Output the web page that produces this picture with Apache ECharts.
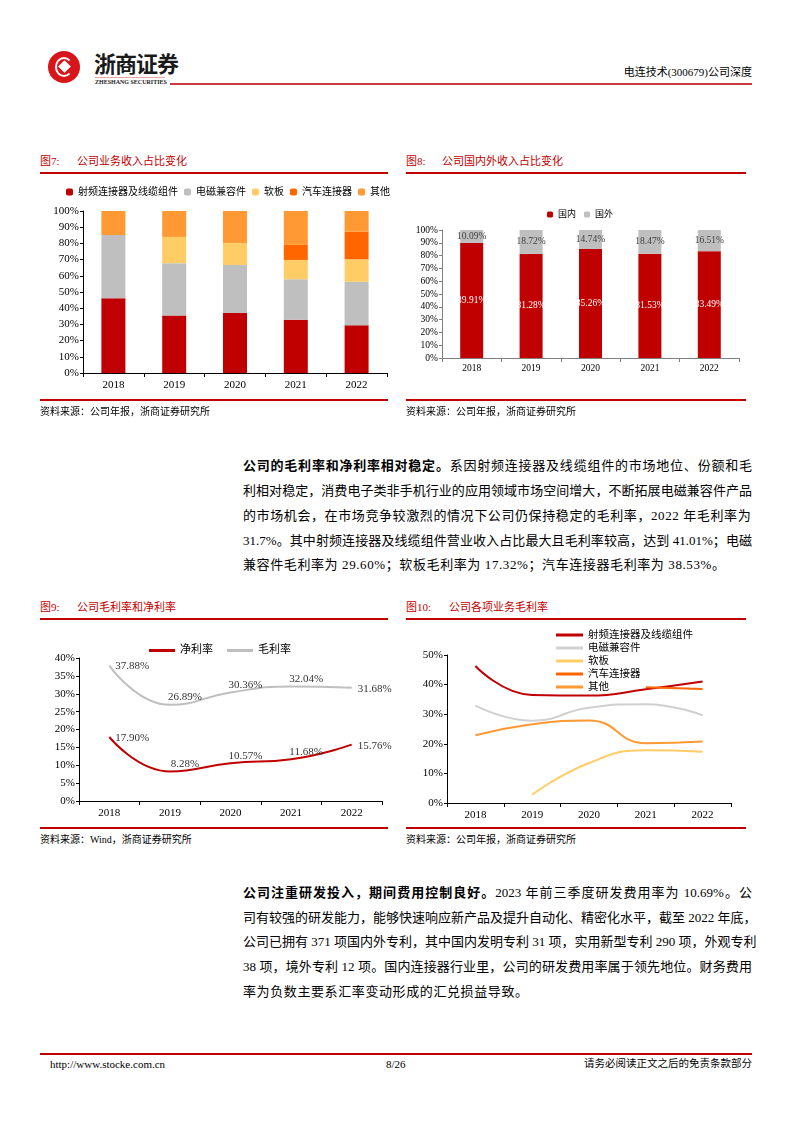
<!DOCTYPE html>
<html>
<head>
<meta charset="utf-8">
<script src="https://cdn.jsdelivr.net/npm/echarts@6/dist/echarts.min.js"></script>
<style>
  body { margin:0; background:#fff; }
  #page { position:relative; width:794px; height:1123px; overflow:hidden;
          font-family:"Liberation Serif","Noto Sans CJK SC",serif; color:#000; }
  .abs { position:absolute; }
  .red-line { position:absolute; background:#c00000; height:2px; }
  .fig-title { position:absolute; font-size:11px; color:#c00000; line-height:14px; white-space:nowrap; }
  .src { position:absolute; font-size:10px; line-height:13px; white-space:nowrap; }
  .chart { position:absolute; width:360px; height:225px; }
  .ln { position:absolute; left:243px; width:509px; font-size:13px; line-height:20px; height:20px; white-space:nowrap; }
  .jf { text-align:justify; text-align-last:justify; }
  b { font-weight:bold; }
</style>
</head>
<body>
<div id="page">
  <!-- header -->
  <div class="abs" style="left:48px;top:51px;width:32px;height:32px;border-radius:50%;background:#d7151a;"></div>
  <div class="abs" style="left:55px;top:57px;width:14px;height:16px;border:2px solid #fff;border-radius:50%;border-right-color:transparent;"></div>
  <div class="abs" style="left:60px;top:62px;width:9px;height:9px;background:#fff;transform:rotate(45deg);"></div>
  <div class="abs" style="left:94px;top:48px;font-size:22px;font-weight:bold;color:#1a1a1a;font-family:'Noto Sans CJK SC';letter-spacing:-1px;line-height:28px;">浙商证券</div>
  <div class="abs" style="left:95px;top:77px;width:70px;height:1px;background:#f0a0a0;"></div>
  <div class="abs" style="left:95px;top:79px;font-size:6px;line-height:7px;font-weight:bold;color:#222;white-space:nowrap;">ZHESHANG SECURITIES</div>
  <div class="abs" style="left:170px;top:83px;width:582px;height:2px;background:#cc3a3f;"></div>
  <div class="abs" style="right:42px;top:65px;font-size:11px;line-height:14px;white-space:nowrap;">电连技术(300679)公司深度</div>

  <!-- figure 7 / 8 -->
  <div class="fig-title" style="left:40px;top:154px;"><span style="display:inline-block;width:37px;">图7:</span>公司业务收入占比变化</div>
  <div class="red-line" style="left:40px;top:172px;width:348px;"></div>
  <div class="fig-title" style="left:406px;top:154px;"><span style="display:inline-block;width:36px;">图8:</span>公司国内外收入占比变化</div>
  <div class="red-line" style="left:406px;top:172px;width:340px;"></div>
  <div id="c7" class="chart" style="left:40px;top:175px;"></div>
  <div id="c8" class="chart" style="left:400px;top:175px;"></div>
  <div class="red-line" style="left:40px;top:399px;width:348px;"></div>
  <div class="red-line" style="left:406px;top:399px;width:340px;"></div>
  <div class="src" style="left:40px;top:405px;">资料来源：公司年报，浙商证券研究所</div>
  <div class="src" style="left:406px;top:405px;">资料来源：公司年报，浙商证券研究所</div>

  <!-- paragraph 1 -->
  <div class="ln jf" style="top:456px;"><b>公司的毛利率和净利率相对稳定。</b>系因射频连接器及线缆组件的市场地位、份额和毛</div>
  <div class="ln jf" style="top:481px;">利相对稳定，消费电子类非手机行业的应用领域市场空间增大，不断拓展电磁兼容件产品</div>
  <div class="ln" style="top:506px;letter-spacing:0.6px;">的市场机会，在市场竞争较激烈的情况下公司仍保持稳定的毛利率，2022 年毛利率为</div>
  <div class="ln jf" style="top:531px;">31.7%。其中射频连接器及线缆组件营业收入占比最大且毛利率较高，达到 41.01%；电磁</div>
  <div class="ln" style="top:555px;letter-spacing:0.6px;">兼容件毛利率为 29.60%；软板毛利率为 17.32%；汽车连接器毛利率为 38.53%。</div>

  <!-- figure 9 / 10 -->
  <div class="fig-title" style="left:40px;top:600px;"><span style="display:inline-block;width:37px;">图9:</span>公司毛利率和净利率</div>
  <div class="red-line" style="left:40px;top:618px;width:348px;"></div>
  <div class="fig-title" style="left:406px;top:600px;"><span style="display:inline-block;width:43px;">图10:</span>公司各项业务毛利率</div>
  <div class="red-line" style="left:406px;top:618px;width:340px;"></div>
  <div id="c9" class="chart" style="left:40px;top:600px;"></div>
  <div id="c10" class="chart" style="left:400px;top:600px;"></div>
  <div class="red-line" style="left:40px;top:827px;width:348px;"></div>
  <div class="red-line" style="left:406px;top:827px;width:340px;"></div>
  <div class="src" style="left:40px;top:833px;">资料来源：Wind，浙商证券研究所</div>
  <div class="src" style="left:406px;top:833px;">资料来源：公司年报，浙商证券研究所</div>

  <!-- paragraph 2 -->
  <div class="ln jf" style="top:883px;"><b>公司注重研发投入，期间费用控制良好。</b>2023 年前三季度研发费用率为 10.69%。公</div>
  <div class="ln jf" style="top:908px;">司有较强的研发能力，能够快速响应新产品及提升自动化、精密化水平，截至 2022 年底，</div>
  <div class="ln jf" style="top:932px;">公司已拥有 371 项国内外专利，其中国内发明专利 31 项，实用新型专利 290 项，外观专利</div>
  <div class="ln jf" style="top:957px;">38 项，境外专利 12 项。国内连接器行业里，公司的研发费用率属于领先地位。财务费用</div>
  <div class="ln" style="top:982px;letter-spacing:0.6px;">率为负数主要系汇率变动形成的汇兑损益导致。</div>

  <!-- footer -->
  <div class="abs" style="left:40px;top:1053px;width:712px;height:2px;background:#c00000;"></div>
  <div class="abs" style="left:50px;top:1057px;font-size:11px;line-height:14px;">http://www.stocke.com.cn</div>
  <div class="abs" style="left:386px;top:1057px;font-size:11px;line-height:14px;">8/26</div>
  <div class="abs" style="right:42px;top:1057px;font-size:10.5px;line-height:14px;white-space:nowrap;">请务必阅读正文之后的免责条款部分</div>
</div>

<script>
var FONT = '"Liberation Serif", "Noto Sans CJK SC", serif';
var years = ['2018', '2019', '2020', '2021', '2022'];

// 图7 业务收入占比 (%)
var bizNames = ['射频连接器及线缆组件', '电磁兼容件', '软板', '汽车连接器', '其他'];
var shareRf = [46.2, 35.5, 37.0, 32.9, 29.4];
var shareEmc = [39.0, 32.3, 29.7, 25.0, 26.9];
var shareFpc = [0, 16.2, 13.6, 11.9, 13.9];
var shareAuto = [0, 0, 0, 9.3, 17.1];
var shareOther = [14.8, 16.0, 19.7, 20.9, 12.7];

// 图8 国内外收入占比 (%)
var domestic = [89.91, 81.28, 85.26, 81.53, 83.49];
var overseas = [10.09, 18.72, 14.74, 18.47, 16.51];

// 图9 毛利率 / 净利率 (%)
var netMargin = [17.90, 8.28, 10.57, 11.68, 15.76];
var grossMargin = [37.88, 26.89, 30.36, 32.04, 31.68];

// 图10 各项业务毛利率 (%)
var gmRf = [46.3, 36.5, 36.3, 38.4, 41.01];
var gmEmc = [32.9, 27.8, 32.2, 33.4, 29.60];
var gmFpc = [null, 2.8, 13.5, 17.8, 17.32];
var gmAuto = [null, null, null, 39.1, 38.53];
var gmOther = [22.9, 26.6, 27.9, 20.2, 20.8];

var bizColors = ['#c00000', '#bfbfbf', '#ffcc66', '#ff6600', '#ff9933'];

function pctAxis(max, interval, size, color) {
  return {
    type: 'value', min: 0, max: max, interval: interval,
    axisLine: { show: true, lineStyle: { color: color } },
    axisTick: { show: true, length: 3, lineStyle: { color: color } },
    splitLine: { show: false },
    axisLabel: { formatter: '{value}%', color: '#000', fontSize: size, margin: 4, fontFamily: FONT }
  };
}
function catAxis(size, color, margin) {
  return {
    type: 'category', data: years,
    axisLine: { lineStyle: { color: color } },
    axisTick: { show: true, length: 4, lineStyle: { color: color } },
    axisLabel: { color: '#000', fontSize: size, margin: margin, fontFamily: FONT }
  };
}

// chart 7
var c7 = echarts.init(document.getElementById('c7'));
var c7Data = [shareRf, shareEmc, shareFpc, shareAuto, shareOther];
c7.setOption({
  animation: false,
  textStyle: { fontFamily: FONT },
  legend: { top: 12, left: 26, right: 0, padding: 0, itemWidth: 7, itemHeight: 7, itemGap: 6,
    textStyle: { fontSize: 10, color: '#000' }, data: bizNames },
  grid: { left: 43, right: 13, top: 36, bottom: 27 },
  xAxis: catAxis(11, '#000', 7),
  yAxis: pctAxis(100, 10, 11, '#000'),
  series: c7Data.map(function (d, i) {
    return { name: bizNames[i], type: 'bar', stack: 'a', barWidth: 24, data: d,
      itemStyle: { color: bizColors[i] } };
  })
});

// chart 8
var c8 = echarts.init(document.getElementById('c8'));
c8.setOption({
  animation: false,
  textStyle: { fontFamily: FONT },
  legend: { top: 30, left: 'center', itemWidth: 6, itemHeight: 6, itemGap: 8,
    textStyle: { fontSize: 9, color: '#000' }, data: ['国内', '国外'] },
  grid: { left: 42, right: 21, top: 55, bottom: 42 },
  xAxis: catAxis(9.5, '#808080', 6),
  yAxis: pctAxis(100, 10, 9.5, '#808080'),
  series: [
    { name: '国内', type: 'bar', stack: 'a', barWidth: 23, data: domestic,
      itemStyle: { color: '#c00000' },
      label: { show: true, position: 'inside', color: '#fff', fontSize: 9.5,
        formatter: function (p) { return p.value.toFixed(2) + '%'; } } },
    { name: '国外', type: 'bar', stack: 'a', barWidth: 23, data: overseas,
      itemStyle: { color: '#bfbfbf' },
      label: { show: true, position: 'inside', color: '#404040', fontSize: 9.5,
        formatter: function (p) { return p.value.toFixed(2) + '%'; } } }
  ]
});

// chart 9
function marginData(arr) {
  return arr.map(function (v, i) {
    var edge = (i === 0 || i === arr.length - 1);
    return { value: v, label: { position: edge ? 'right' : 'top', distance: edge ? 6 : 3, offset: edge ? [0, 1] : [15, 1] } };
  });
}
function pctLabel(p) { return p.value.toFixed(2) + '%'; }
var c9 = echarts.init(document.getElementById('c9'));
c9.setOption({
  animation: false,
  textStyle: { fontFamily: FONT },
  legend: { top: 40, left: 'center', icon: 'rect', itemWidth: 26, itemHeight: 3, itemGap: 14,
    textStyle: { fontSize: 11, color: '#000' }, data: ['净利率', '毛利率'] },
  grid: { left: 39, right: 18, top: 58, bottom: 24 },
  xAxis: catAxis(11, '#000', 7),
  yAxis: pctAxis(40, 5, 11, '#000'),
  series: [
    { name: '净利率', type: 'line', smooth: true, symbol: 'circle', symbolSize: 0.1, data: marginData(netMargin),
      lineStyle: { color: '#c00000', width: 2 }, itemStyle: { color: '#c00000' },
      label: { show: true, color: '#333', fontSize: 11, formatter: pctLabel } },
    { name: '毛利率', type: 'line', smooth: true, symbol: 'circle', symbolSize: 0.1, data: marginData(grossMargin),
      lineStyle: { color: '#bfbfbf', width: 2 }, itemStyle: { color: '#bfbfbf' },
      label: { show: true, color: '#333', fontSize: 11, formatter: pctLabel } }
  ]
});

// chart 10
var c10 = echarts.init(document.getElementById('c10'));
var c10Data = [gmRf, gmEmc, gmFpc, gmAuto, gmOther];
var c10Colors = ['#c00000', '#d0d0d0', '#ffcc66', '#ff6600', '#ff9933'];
c10.setOption({
  animation: false,
  textStyle: { fontFamily: FONT },
  legend: { orient: 'vertical', top: 24, left: 151, icon: 'rect', itemWidth: 27, itemHeight: 3, itemGap: 1,
    textStyle: { fontSize: 10.5, color: '#000', lineHeight: 12 }, data: bizNames },
  grid: { left: 47, right: 29, top: 55, bottom: 22 },
  xAxis: catAxis(11, '#000', 7),
  yAxis: pctAxis(50, 10, 11, '#000'),
  series: c10Data.map(function (d, i) {
    return { name: bizNames[i], type: 'line', smooth: true, showSymbol: false, data: d,
      lineStyle: { color: c10Colors[i], width: 2 }, itemStyle: { color: c10Colors[i] } };
  })
});
</script>
</body>
</html>
